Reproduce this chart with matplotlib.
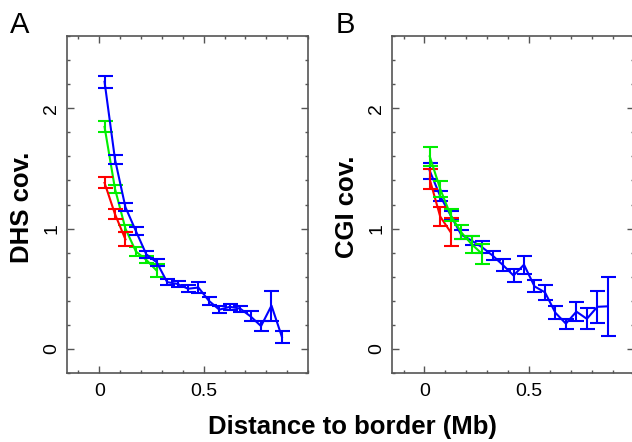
import numpy as np
import matplotlib
matplotlib.use('Agg')
import matplotlib.pyplot as plt
from matplotlib.ticker import MultipleLocator

plt.rcParams['font.family'] = ['Liberation Sans', 'DejaVu Sans']

# bin centres (Mb)
x_blue = [0.025, 0.075, 0.125, 0.175, 0.225, 0.275, 0.325, 0.375, 0.425,
          0.475, 0.525, 0.575, 0.625, 0.675, 0.725, 0.775, 0.825, 0.875]
x_green = x_blue[:6]
x_red = x_blue[:3]

# panel A: DHS coverage
dhs_blue = [2.22, 1.575, 1.178, 0.98, 0.786, 0.72, 0.555, 0.54, 0.50,
            0.51, 0.40, 0.326, 0.35, 0.335, 0.27, 0.19, 0.36, 0.10]
dhs_blue_err = [0.05, 0.04, 0.035, 0.03, 0.03, 0.03, 0.025, 0.022, 0.03,
                0.048, 0.032, 0.028, 0.025, 0.025, 0.042, 0.038, 0.125, 0.048]
dhs_green = [1.845, 1.33, 1.0, 0.81, 0.74, 0.65]
dhs_green_err = [0.045, 0.035, 0.03, 0.04, 0.03, 0.052]
dhs_red = [1.38, 1.12, 0.91]
dhs_red_err = [0.045, 0.04, 0.058]

# panel B: CGI coverage
cgi_blue = [1.48, 1.27, 1.11, 0.95, 0.90, 0.845, 0.776, 0.696, 0.61,
            0.70, 0.52, 0.47, 0.30, 0.21, 0.31, 0.25, 0.35, 0.354]
cgi_blue_err = [0.065, 0.04, 0.035, 0.036, 0.04, 0.05, 0.035, 0.05, 0.05,
                0.076, 0.05, 0.06, 0.053, 0.042, 0.08, 0.087, 0.131, 0.244]
cgi_green = [1.60, 1.33, 1.11, 0.97, 0.87, 0.79]
cgi_green_err = [0.077, 0.067, 0.05, 0.06, 0.072, 0.084]
cgi_red = [1.41, 1.10, 0.97]
cgi_red_err = [0.083, 0.08, 0.115]

W, H = 632, 442
fig = plt.figure(figsize=(W / 100, H / 100), dpi=100)
ax_a = fig.add_axes([67 / W, 69 / H, 241 / W, 337 / H])
ax_b = fig.add_axes([392 / W, 69 / H, 242 / W, 337 / H])

frame_col = '#555555'


def draw_panel(ax, series):
    for x, y, e, col, z in series:
        ax.errorbar(x, y, yerr=e, color=col, lw=1.5, elinewidth=1.5,
                    capsize=5.4, capthick=1.5, zorder=z)
    ax.set_xlim(-0.155, 1.0)
    ax.set_ylim(-0.2, 2.6)
    ax.xaxis.set_major_locator(MultipleLocator(0.5))
    ax.xaxis.set_minor_locator(MultipleLocator(0.1))
    ax.yaxis.set_major_locator(MultipleLocator(1))
    ax.yaxis.set_minor_locator(MultipleLocator(0.2))
    ax.set_xticks([0, 0.5])
    ax.set_xticklabels(['0', '0.5'])
    ax.set_yticks([0, 1, 2])
    ax.set_yticklabels(['0', '1', '2'], rotation=90, va='center')
    ax.tick_params(which='both', direction='in', top=True, right=True,
                   color=frame_col, labelsize=14, width=1)
    ax.tick_params(which='major', length=5)
    ax.tick_params(which='minor', length=2.5)
    ax.tick_params(axis='x', pad=7)
    ax.tick_params(axis='y', pad=5)
    for sp in ax.spines.values():
        sp.set_color(frame_col)
        sp.set_linewidth(1.2)


draw_panel(ax_a, [
    (x_green, dhs_green, dhs_green_err, '#00ee00', 2),
    (x_red, dhs_red, dhs_red_err, '#ff0000', 3),
    (x_blue, dhs_blue, dhs_blue_err, '#0000ff', 4),
])
draw_panel(ax_b, [
    (x_blue, cgi_blue, cgi_blue_err, '#0000ff', 2),
    (x_red, cgi_red, cgi_red_err, '#ff0000', 3),
    (x_green, cgi_green, cgi_green_err, '#00ee00', 4),
])

# panel letters and labels
fig.text(10 / W, 1 - 33 / H, 'A', fontsize=21, va='baseline')
fig.text(336 / W, 1 - 33 / H, 'B', fontsize=21, va='baseline')
fig.text(22 / W, 1 - 207 / H, 'DHS cov.', rotation=90, fontsize=18.5,
         fontweight='bold', ha='center', va='center')
fig.text(347 / W, 1 - 207 / H, 'CGI cov.', rotation=90, fontsize=18.5,
         fontweight='bold', ha='center', va='center')
fig.text(352 / W, 1 - 434 / H, 'Distance to border (Mb)', fontsize=18.5,
         fontweight='bold', ha='center', va='baseline')

fig.savefig('out.png', dpi=100)
